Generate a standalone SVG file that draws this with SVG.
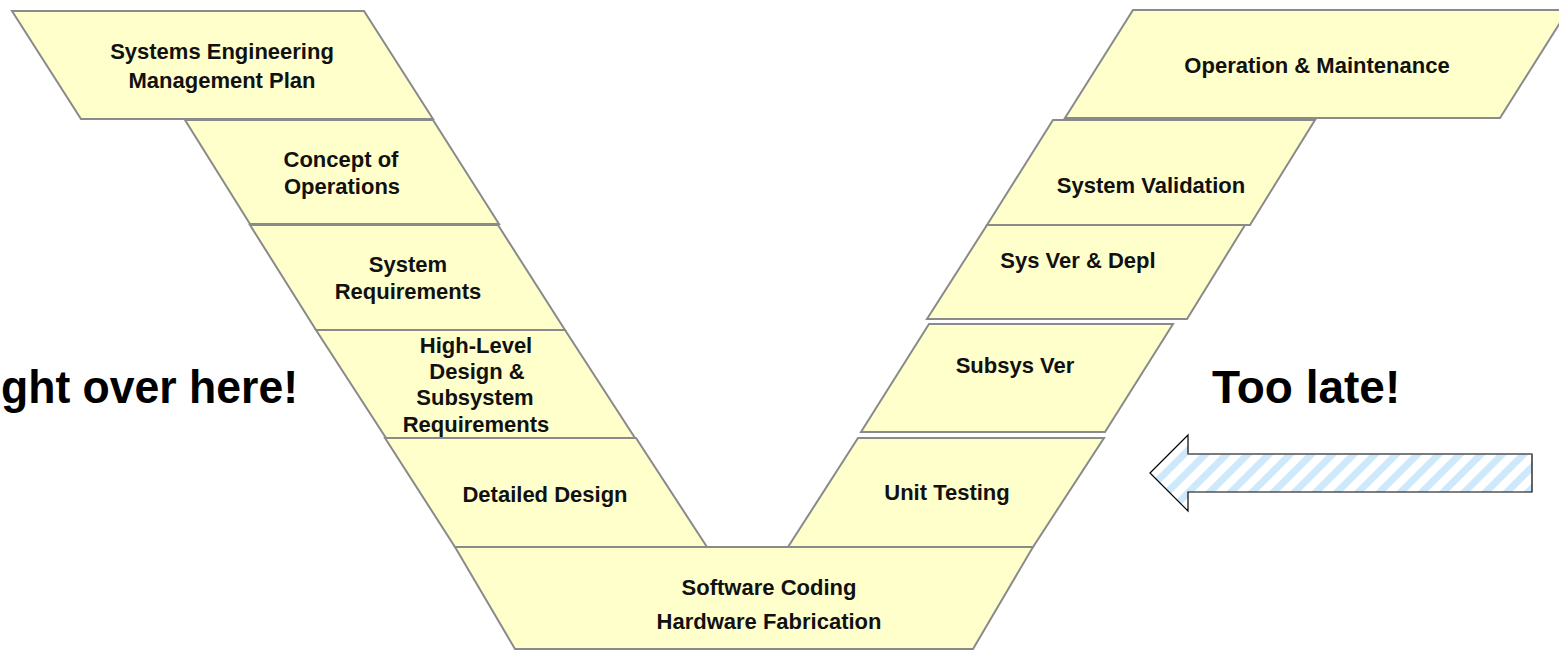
<svg xmlns="http://www.w3.org/2000/svg" width="1559" height="650" viewBox="0 0 1559 650">
  <style>
    .step { fill: #ffffcc; stroke: #8a8a8a; stroke-width: 2; stroke-linejoin: miter; }
    .lbl { font-family: "Liberation Sans", Arial, sans-serif; font-weight: bold; font-size: 22px; fill: #111; text-anchor: middle; }
    .big { font-family: "Liberation Sans", Arial, sans-serif; font-weight: bold; font-size: 46px; fill: #000; }
  </style>
  <defs>
    <pattern id="stripes" width="15" height="15" patternUnits="userSpaceOnUse" patternTransform="rotate(45)">
      <rect width="15" height="15" fill="#ffffff"/>
      <rect width="7" height="15" fill="#cde9fb"/>
    </pattern>
  </defs>
  <rect width="1559" height="650" fill="#ffffff"/>

  <!-- left leg: definition and decomposition -->
  <g id="semp">
    <polygon class="step" points="12,11 364,11 433,119 81,119"/>
    <text class="lbl" x="222" y="59">Systems Engineering</text>
    <text class="lbl" x="222" y="88">Management Plan</text>
  </g>
  <g id="conops">
    <polygon class="step" points="185,120 433,120 499,224 250,224"/>
    <text class="lbl" x="341" y="167">Concept of</text>
    <text class="lbl" x="342" y="194">Operations</text>
  </g>
  <g id="sysreq">
    <polygon class="step" points="250,225 498,225 565,330 316,330"/>
    <text class="lbl" x="408" y="272">System</text>
    <text class="lbl" x="408" y="299">Requirements</text>
  </g>
  <g id="hld">
    <polygon class="step" points="316,330 565,330 635,438 386,438"/>
    <text class="lbl" x="476" y="353">High-Level</text>
    <text class="lbl" x="477" y="379">Design &amp;</text>
    <text class="lbl" x="475" y="405">Subsystem</text>
    <text class="lbl" x="476" y="432">Requirements</text>
  </g>
  <g id="detailed">
    <polygon class="step" points="385,438 636,438 707,547 455,547"/>
    <text class="lbl" x="545" y="502">Detailed Design</text>
  </g>

  <!-- base of the V -->
  <g id="coding">
    <polygon class="step" points="455,547 1033,547 973,649 515,649"/>
    <text class="lbl" x="769" y="595">Software Coding</text>
    <text class="lbl" x="769" y="629">Hardware Fabrication</text>
  </g>

  <!-- right leg: integration and verification -->
  <g id="unit">
    <polygon class="step" points="858,438 1104,438 1033,547 788,547"/>
    <text class="lbl" x="947" y="500">Unit Testing</text>
  </g>
  <g id="subsys">
    <polygon class="step" points="929,324 1173,324 1105,432 861,432"/>
    <text class="lbl" x="1015" y="373">Subsys Ver</text>
  </g>
  <g id="sysver">
    <polygon class="step" points="987,225 1245,225 1187,319 927,319"/>
    <text class="lbl" x="1078" y="268">Sys Ver &amp; Depl</text>
  </g>
  <g id="sysval">
    <polygon class="step" points="1053,120 1315,120 1250,225 987,225"/>
    <text class="lbl" x="1151" y="193">System Validation</text>
  </g>
  <g id="om">
    <polygon class="step" points="1133,10 1568,10 1500,118 1065,118"/>
    <text class="lbl" x="1317" y="73">Operation &amp; Maintenance</text>
  </g>

  <!-- callouts -->
  <g id="callouts">
    <text class="big" x="1" y="403" textLength="297" lengthAdjust="spacingAndGlyphs">ght over here!</text>
    <text class="big" x="1212" y="403">Too late!</text>
  </g>

  <!-- striped block arrow pointing left -->
  <g id="arrow">
    <polygon points="1150,473 1188,435 1188,454 1532,454 1532,492 1188,492 1188,511" fill="url(#stripes)" stroke="#000" stroke-width="1.2"/>
    <line x1="1188" y1="454" x2="1532" y2="454" stroke="#7a7a7a" stroke-width="1.6"/>
  </g>
</svg>
